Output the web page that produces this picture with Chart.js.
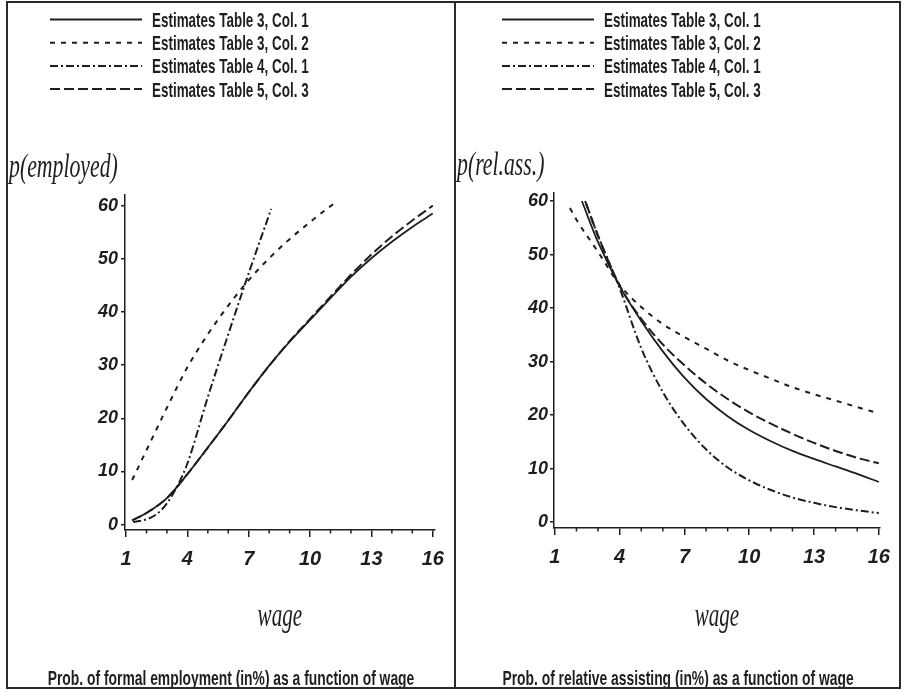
<!DOCTYPE html>
<html>
<head>
<meta charset="utf-8">
<title>Wage effects</title>
<script src="https://cdn.jsdelivr.net/npm/chart.js@4.4.0/dist/chart.umd.min.js"></script>
<style>
  body { margin: 0; background: #fff; width: 904px; height: 695px; position: relative; overflow: hidden; }
  canvas { position: absolute; top: 0; }
  #empChart { left: 8px; }
  #relChart { left: 456px; }
  #frame { position: absolute; left: 6px; top: 1px; width: 895px; height: 688px; box-sizing: border-box;
           border: 2px solid #2a2a2a; pointer-events: none; z-index: 2; }
  #divider { position: absolute; left: 454px; top: 1px; width: 2px; height: 688px; background: #2a2a2a; z-index: 2; }
</style>
</head>
<body>
<canvas id="empChart" width="446" height="695"></canvas>
<canvas id="relChart" width="444" height="695"></canvas>
<div id="frame"></div>
<div id="divider"></div>

<script>
// ---- values ----
const xTickValues = [1, 4, 7, 10, 13, 16];
const xMinorValues = [2, 3, 5, 6, 8, 9, 11, 12, 14, 15];
const yTickValues = [0, 10, 20, 30, 40, 50, 60];

const seriesNames = [
  "Estimates Table 3, Col. 1",
  "Estimates Table 3, Col. 2",
  "Estimates Table 4, Col. 1",
  "Estimates Table 5, Col. 3"
];

// left panel: p(employed)
const empWageA = [1.3, 2, 3, 4, 5, 6, 7, 8, 9, 10, 11, 12, 13, 14, 15, 16];
const empT3C1  = [0.8, 2.2, 5.0, 9.5, 14.5, 19.6, 24.9, 29.9, 34.4, 38.5, 42.6, 46.6, 50.1, 53.2, 56.0, 58.5];
const empT5C3  = [0.8, 2.2, 5.0, 9.5, 14.5, 19.6, 24.9, 29.9, 34.5, 38.7, 42.9, 47.0, 50.8, 54.2, 57.2, 60.0];
const empWageB = [1.3, 2, 3, 4, 5, 6, 7, 8, 9, 10, 11, 11.3];
const empT3C2  = [8.4, 14.0, 22.0, 29.6, 35.8, 41.2, 46.0, 50.1, 53.7, 56.9, 59.9, 60.7];
const empWageC = [1.35, 2, 2.5, 3, 3.5, 4, 5, 6, 7, 8, 8.1];
const empT4C1  = [0.5, 1.0, 2.0, 4.0, 7.2, 11.5, 24.0, 35.8, 47.3, 58.3, 59.4];

// right panel: p(rel.ass.)
const relWageA = [2.25, 3, 4, 5, 6, 7, 8, 9, 10, 11, 12, 13, 14, 15, 16];
const relT3C1  = [60.0, 52.3, 44.1, 37.6, 31.9, 27.0, 23.0, 19.8, 17.2, 15.1, 13.3, 11.8, 10.4, 9.0, 7.5];
const relWageB = [1.7, 2, 3, 4, 5, 6, 7, 8, 9, 10, 11, 12, 13, 14, 15, 16];
const relT3C2  = [58.7, 56.5, 50.5, 44.3, 40.2, 37.0, 34.6, 32.4, 30.2, 28.4, 26.8, 25.2, 23.9, 22.7, 21.5, 20.3];
const relWageC = [2.4, 3, 4, 5, 6, 7, 8, 9, 10, 11, 12, 13, 14, 15, 16];
const relT4C1  = [60.0, 53.5, 43.7, 32.5, 24.3, 18.2, 13.6, 10.2, 7.8, 6.0, 4.6, 3.6, 2.8, 2.2, 1.7];
const relWageD = [2.45, 3, 4, 5, 6, 7, 8, 9, 10, 11, 12, 13, 14, 15, 16];
const relT5C3  = [59.5, 53.5, 44.2, 38.0, 33.2, 29.3, 25.9, 23.0, 20.5, 18.4, 16.5, 14.8, 13.3, 12.0, 11.0];

// ---- styling ----
const ink = "#1e1e1e";
const lineStyles = [
  { dash: [], width: 1.8 },          // solid
  { dash: [5, 6], width: 2 },        // dotted
  { dash: [8, 3, 2, 3], width: 2 },  // dash-dot
  { dash: [10, 4], width: 2 }        // dashed
];
const boldFont = 'bold 21px "Liberation Sans", Arial, sans-serif';
const scriptFont = 'italic 33px "Liberation Serif", "DejaVu Serif", serif';
const xTickFont = { family: '"Liberation Sans", Arial, sans-serif', size: 20, style: "italic", weight: "bold" };
const yTickFont = { family: '"Liberation Sans", Arial, sans-serif', size: 18, style: "italic", weight: "bold" };

function pts(xs, ys) {
  return xs.map((x, i) => ({ x: x, y: ys[i] }));
}

// draw text squeezed horizontally (the original uses a very narrow face)
function narrowText(ctx, text, x, y, font, sx, align) {
  ctx.save();
  ctx.font = font;
  ctx.textBaseline = "alphabetic";
  ctx.textAlign = "left";
  const w = ctx.measureText(text).width * sx;
  const x0 = align === "center" ? x - w / 2 : x;
  ctx.translate(x0, y);
  ctx.scale(sx, 1);
  ctx.fillText(text, 0, 0);
  ctx.restore();
}

// legend, axis names, caption and minor ticks
const panelText = {
  id: "panelText",
  afterDraw(chart, args, opts) {
    const ctx = chart.ctx;
    const area = chart.chartArea;
    ctx.save();
    ctx.fillStyle = ink;
    ctx.strokeStyle = ink;

    chart.data.datasets.forEach((ds, i) => {
      const y = 19.5 + i * 23.2;
      ctx.save();
      ctx.lineWidth = ds.borderWidth;
      ctx.setLineDash(ds.borderDash || []);
      ctx.beginPath();
      ctx.moveTo(opts.legendX, y);
      ctx.lineTo(opts.legendX + 92, y);
      ctx.stroke();
      ctx.restore();
      narrowText(ctx, ds.label, opts.legendX + 102, y + 7.5, boldFont, 0.64, "left");
    });

    narrowText(ctx, opts.yLabel, 1, opts.yLabelY, scriptFont, 0.66, "left");
    narrowText(ctx, "wage", (area.left + area.right) / 2, 626, scriptFont, 0.64, "center");
    narrowText(ctx, opts.caption, chart.width / 2, 685, boldFont, 0.66, "center");

    const xs = chart.scales.x;
    ctx.lineWidth = 1.5;
    xMinorValues.forEach(v => {
      const px = xs.getPixelForValue(v);
      ctx.beginPath();
      ctx.moveTo(px, area.bottom);
      ctx.lineTo(px, area.bottom + 3.5);
      ctx.stroke();
    });
    ctx.restore();
  }
};

function makePanel(id, series, cfg) {
  const datasets = series.map((s, i) => ({
    label: seriesNames[i],
    data: s,
    borderColor: ink,
    borderWidth: lineStyles[i].width,
    borderDash: lineStyles[i].dash,
    pointRadius: 0,
    fill: false,
    cubicInterpolationMode: "monotone"
  }));

  return new Chart(document.getElementById(id), {
    type: "line",
    data: { datasets: datasets },
    options: {
      responsive: false,
      animation: false,
      devicePixelRatio: 1,
      layout: { padding: { left: 0, top: cfg.top, right: cfg.right, bottom: cfg.bottom } },
      plugins: {
        legend: { display: false },
        tooltip: { enabled: false },
        panelText: { legendX: cfg.legendX, yLabel: cfg.yLabel, yLabelY: cfg.yLabelY, caption: cfg.caption }
      },
      scales: {
        x: {
          type: "linear",
          min: cfg.xMin,
          max: cfg.xMax,
          afterBuildTicks: s => { s.ticks = xTickValues.map(v => ({ value: v })); },
          afterFit: s => { s.height = 100; },
          ticks: { font: xTickFont, color: ink, padding: 10, maxRotation: 0, autoSkip: false },
          grid: { drawOnChartArea: false, tickLength: 7, color: ink, lineWidth: 1.5 },
          border: { color: ink, width: 1.5 }
        },
        y: {
          type: "linear",
          min: cfg.yMin,
          max: cfg.yMax,
          afterBuildTicks: s => { s.ticks = yTickValues.map(v => ({ value: v })); },
          afterFit: s => { s.width = cfg.yWidth; },
          ticks: { font: yTickFont, color: ink, padding: cfg.yPad },
          grid: { drawOnChartArea: false, tickLength: 4, color: ink, lineWidth: 1.5 },
          border: { color: ink, width: 1.5 }
        }
      }
    },
    plugins: [panelText]
  });
}

makePanel("empChart", [
  pts(empWageA, empT3C1),
  pts(empWageB, empT3C2),
  pts(empWageC, empT4C1),
  pts(empWageA, empT5C3)
], {
  top: 195, right: 17, bottom: 65, yWidth: 117, yPad: 3,
  xMin: 0.95, xMax: 16.1, yMin: -1, yMax: 62,
  legendX: 42, yLabel: "p(employed)", yLabelY: 177,
  caption: "Prob. of formal employment (in%) as a function of wage"
});

makePanel("relChart", [
  pts(relWageA, relT3C1),
  pts(relWageB, relT3C2),
  pts(relWageC, relT4C1),
  pts(relWageD, relT5C3)
], {
  top: 193, right: 17, bottom: 67, yWidth: 98, yPad: 2,
  xMin: 0.96, xMax: 16.05, yMin: -1.1, yMax: 61.5,
  legendX: 46, yLabel: "p(rel.ass.)", yLabelY: 175,
  caption: "Prob. of relative assisting (in%) as a function of wage"
});
</script>
</body>
</html>
